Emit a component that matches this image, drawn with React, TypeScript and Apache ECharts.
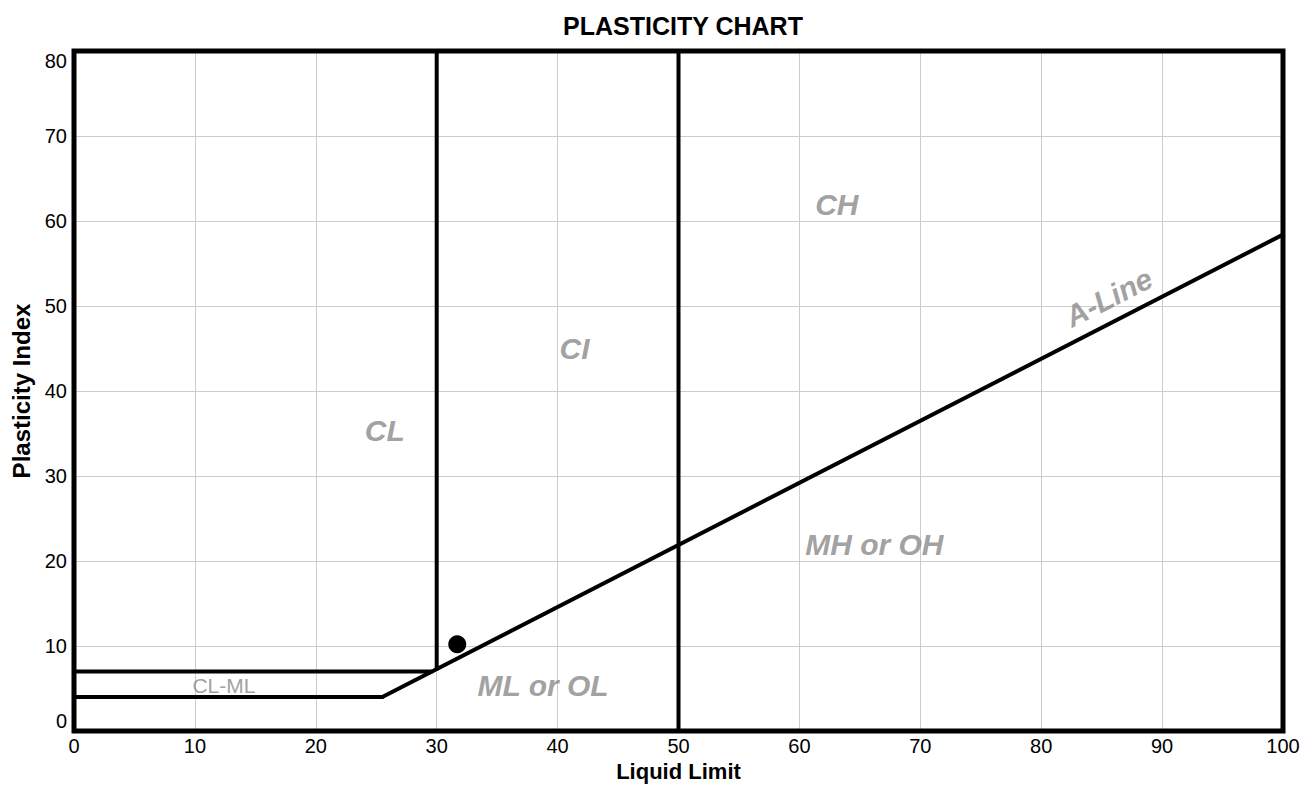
import React, { useEffect, useRef } from "react";
import * as echarts from "echarts";

const xTicks = [0, 10, 20, 30, 40, 50, 60, 70, 80, 90, 100];
const yTicks = [0, 10, 20, 30, 40, 50, 60, 70, 80];
const aLine: [number, number][] = [[25.5, 4], [100, 58.4]];
const clmlTop: [number, number][] = [[0, 7], [29.6, 7]];
const clmlBottom: [number, number][] = [[0, 4], [25.5, 4]];
const ll30Line: [number, number][] = [[30, 7.3], [30, 80]];
const ll50Line: [number, number][] = [[50, 0], [50, 80]];
const samplePoints: [number, number][] = [[31.7, 10.2]];
const zoneNames = ["CL", "CI", "CH", "MH or OH", "ML or OL", "CL-ML", "A-Line"];
const zonePos: [number, number][] = [[25.7, 35.4], [41.4, 45], [63.1, 62], [66.2, 22.0], [38.8, 5.4], [12.4, 5.3], [85.6, 51]];

const FONT = "'Liberation Sans', Arial, sans-serif";

export default function App() {
  const ref = useRef<HTMLDivElement>(null);
  useEffect(() => {
    const chart = echarts.init(ref.current!, undefined, { renderer: "svg" });
    const lineStyle = { color: "#000", width: 4, cap: "round", join: "round" };
    const mkLine = (data: [number, number][]) => ({
      type: "line",
      data,
      symbol: "none",
      lineStyle,
      silent: true,
      z: 3,
    });
    const zoneData = zoneNames.map((n, i) => {
      const small = n === "CL-ML";
      const rot = n === "A-Line" ? 27 : 0;
      return {
        name: n,
        value: zonePos[i],
        label: {
          show: true,
          formatter: n,
          position: "inside",
          color: "#888",
          fontSize: small ? 21 : 30,
          fontWeight: small ? "normal" : "bold",
          fontStyle: small ? "normal" : "italic",
          fontFamily: FONT,
          rotate: rot,
        },
      };
    });
    chart.setOption({
      animation: false,
      backgroundColor: "#fff",
      title: {
        text: "PLASTICITY CHART",
        left: 678,
        top: 8,
        textAlign: "center",
        textStyle: { fontSize: 25, fontWeight: "bold", color: "#000", fontFamily: FONT },
      },
      grid: {
        left: 74,
        right: 31,
        top: 51,
        bottom: 54,
        containLabel: false,
        outerBoundsMode: "none",
        show: true,
        borderColor: "#000",
        borderWidth: 5,
        z: 5,
      },
      xAxis: {
        type: "value",
        min: xTicks[0],
        max: xTicks[xTicks.length - 1],
        interval: 10,
        name: "Liquid Limit",
        nameLocation: "middle",
        nameGap: 22,
        nameTextStyle: { fontSize: 22, fontWeight: "bold", color: "#000", fontFamily: FONT },
        axisLine: { show: false },
        axisTick: { show: false },
        axisLabel: { fontSize: 20, color: "#000", fontFamily: FONT, margin: 5 },
        splitLine: { show: true, lineStyle: { color: "#ccc", width: 1 } },
      },
      yAxis: {
        type: "value",
        min: yTicks[0],
        max: yTicks[yTicks.length - 1],
        interval: 10,
        name: "Plasticity Index",
        nameLocation: "middle",
        nameGap: 40,
        nameTextStyle: { fontSize: 24, fontWeight: "bold", color: "#000", fontFamily: FONT },
        axisLine: { show: false },
        axisTick: { show: false },
        axisLabel: {
          fontSize: 20,
          color: "#000",
          fontFamily: FONT,
          margin: 7,
          verticalAlignMinLabel: "bottom",
          verticalAlignMaxLabel: "top",
        },
        splitLine: { show: true, lineStyle: { color: "#ccc", width: 1 } },
      },
      series: [
        mkLine(aLine),
        mkLine(clmlTop),
        mkLine(clmlBottom),
        mkLine(ll30Line),
        mkLine(ll50Line),
        {
          type: "scatter",
          data: samplePoints,
          symbol: "circle",
          symbolSize: 18,
          itemStyle: { color: "#000", opacity: 1 },
          z: 4,
        },
        {
          type: "scatter",
          data: zoneData,
          symbolSize: 0,
          silent: true,
          z: 4,
        },
      ],
    });
    return () => chart.dispose();
  }, []);
  return (
    <div
      ref={ref}
      style={{ position: "absolute", left: 0, top: 0, width: 1314, height: 785 }}
    />
  );
}
